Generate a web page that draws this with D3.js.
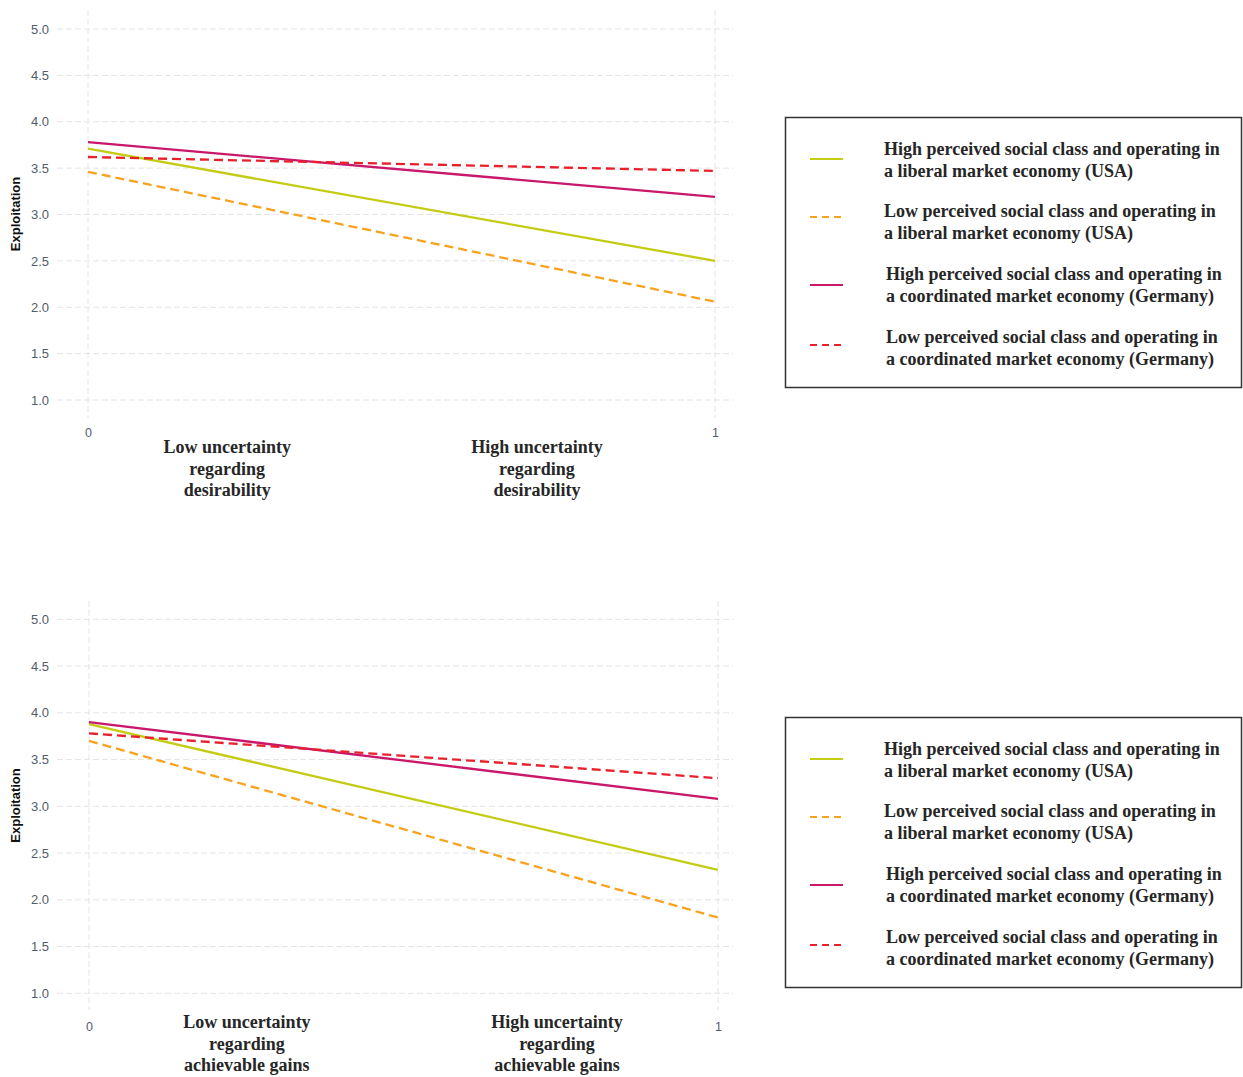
<!DOCTYPE html>
<html>
<head>
<meta charset="utf-8">
<script src="https://cdn.jsdelivr.net/npm/d3@7"></script>
<style>
  html, body { margin: 0; padding: 0; background: #fff; }
  svg { display: block; }
</style>
</head>
<body>
<svg id="chart" width="1243" height="1077"></svg>
<script>
// ---- data ----
const xLevels = [0, 1];
const yTicks = [1.0, 1.5, 2.0, 2.5, 3.0, 3.5, 4.0, 4.5, 5.0];
const yAxisTitle = "Exploitation";

const seriesNames = [
  ["High perceived social class and operating in", "a liberal market economy (USA)"],
  ["Low perceived social class and operating in", "a liberal market economy (USA)"],
  ["High perceived social class and operating in", "a coordinated market economy (Germany)"],
  ["Low perceived social class and operating in", "a coordinated market economy (Germany)"]
];
const seriesColors = ["#c3cb12", "#f9a21e", "#c9186a", "#e8202c"];
const seriesDashed = [false, true, false, true];

// uncertainty regarding desirability
const desHighUSA = [3.71, 2.50];
const desLowUSA  = [3.46, 2.06];
const desHighGER = [3.78, 3.19];
const desLowGER  = [3.62, 3.47];
const desirabilityLabels = [
  ["Low uncertainty", "regarding", "desirability"],
  ["High uncertainty", "regarding", "desirability"]
];

// uncertainty regarding achievable gains
const gainsHighUSA = [3.88, 2.32];
const gainsLowUSA  = [3.70, 1.81];
const gainsHighGER = [3.90, 3.08];
const gainsLowGER  = [3.78, 3.30];
const gainsLabels = [
  ["Low uncertainty", "regarding", "achievable gains"],
  ["High uncertainty", "regarding", "achievable gains"]
];

// ---- layout ----
const panels = [
  {
    series: [desHighUSA, desLowUSA, desHighGER, desLowGER],
    labels: desirabilityLabels,
    xRange: [88, 715], yRange: [400, 29],
    gridX: [57, 733], gridY: [10, 418],
    labelAt: [0.222, 0.716], labelBaseline: 453,
    tickY: 438,
    legendTop: 117
  },
  {
    series: [gainsHighUSA, gainsLowUSA, gainsHighGER, gainsLowGER],
    labels: gainsLabels,
    xRange: [89, 718], yRange: [993.3, 619.3],
    gridX: [57, 733], gridY: [601, 1010],
    labelAt: [0.251, 0.744], labelBaseline: 1028,
    tickY: 1032,
    legendTop: 717
  }
];

const svg = d3.select("#chart");
const gridColor = "#e4e4e4";
const tickColor = "#525c6c";
const textColor = "#262626";
const serif = "'Liberation Serif', 'Times New Roman', serif";
const sans = "'Liberation Sans', Arial, sans-serif";

panels.forEach(p => {
  const x = d3.scaleLinear().domain([0, 1]).range(p.xRange);
  const y = d3.scaleLinear().domain([1, 5]).range(p.yRange);
  const g = svg.append("g");

  // horizontal grid
  g.append("g").selectAll("line").data(yTicks).join("line")
    .attr("x1", p.gridX[0]).attr("x2", p.gridX[1])
    .attr("y1", d => y(d)).attr("y2", d => y(d))
    .attr("stroke", gridColor).attr("stroke-width", 1)
    .attr("stroke-dasharray", "6,3");

  // vertical grid at x levels
  g.append("g").selectAll("line").data(xLevels).join("line")
    .attr("x1", d => x(d)).attr("x2", d => x(d))
    .attr("y1", p.gridY[0]).attr("y2", p.gridY[1])
    .attr("stroke", gridColor).attr("stroke-width", 1)
    .attr("stroke-dasharray", "6,3");

  // y axis via d3.axisLeft (domain and tick marks hidden)
  const yAxis = g.append("g")
    .attr("transform", `translate(${p.gridX[0] - 8},0)`)
    .call(d3.axisLeft(y).tickValues(yTicks).tickFormat(d3.format(".1f")).tickSize(0).tickPadding(0));
  yAxis.select(".domain").remove();
  yAxis.selectAll("text")
    .attr("fill", tickColor).attr("font-family", sans).attr("font-size", 13);

  // x axis tick labels
  const xAxis = g.append("g")
    .attr("transform", `translate(0,${p.tickY - 10})`)
    .call(d3.axisBottom(x).tickValues(xLevels).tickFormat(d3.format("d")).tickSize(0).tickPadding(0));
  xAxis.select(".domain").remove();
  xAxis.selectAll("text")
    .attr("fill", tickColor).attr("font-family", sans).attr("font-size", 12.5);

  // y axis title
  g.append("text")
    .attr("transform", `translate(20,${(p.gridY[0] + p.gridY[1]) / 2}) rotate(-90)`)
    .attr("text-anchor", "middle")
    .attr("font-family", sans).attr("font-weight", "bold").attr("font-size", 13)
    .attr("fill", "#111")
    .text(yAxisTitle);

  // series lines
  const line = d3.line().x((d, i) => x(xLevels[i])).y(d => y(d));
  g.append("g").selectAll("path").data(p.series).join("path")
    .attr("d", d => line(d))
    .attr("fill", "none")
    .attr("stroke", (d, i) => seriesColors[i])
    .attr("stroke-width", 2.3)
    .attr("stroke-dasharray", (d, i) => seriesDashed[i] ? "9,5" : null);

  // category labels under the x axis
  p.labels.forEach((lines, k) => {
    const t = g.append("text")
      .attr("text-anchor", "middle")
      .attr("font-family", serif).attr("font-weight", "bold").attr("font-size", 18)
      .attr("fill", textColor);
    lines.forEach((s, j) => {
      t.append("tspan")
        .attr("x", x(p.labelAt[k]))
        .attr("y", p.labelBaseline + j * 21.5)
        .text(s);
    });
  });

  // legend box
  const lg = g.append("g").attr("transform", `translate(0,${p.legendTop})`);
  lg.append("rect")
    .attr("x", 785.5).attr("y", 0.5).attr("width", 456).attr("height", 270)
    .attr("fill", "#fff").attr("stroke", "#333").attr("stroke-width", 1.5);
  const rowText = [32, 94, 157, 220];
  const rowSample = [42, 100, 168, 228];
  seriesNames.forEach((names, i) => {
    lg.append("line")
      .attr("x1", 810).attr("x2", 843)
      .attr("y1", rowSample[i]).attr("y2", rowSample[i])
      .attr("stroke", seriesColors[i]).attr("stroke-width", 2.2)
      .attr("stroke-dasharray", seriesDashed[i] ? "7,5" : null);
    const t = lg.append("text")
      .attr("font-family", serif).attr("font-weight", "bold").attr("font-size", 18)
      .attr("fill", textColor);
    names.forEach((s, j) => {
      t.append("tspan")
        .attr("x", i < 2 ? 884 : 886)
        .attr("y", rowText[i] + 6 + j * 21.5)
        .text(s);
    });
  });
});
</script>
</body>
</html>
